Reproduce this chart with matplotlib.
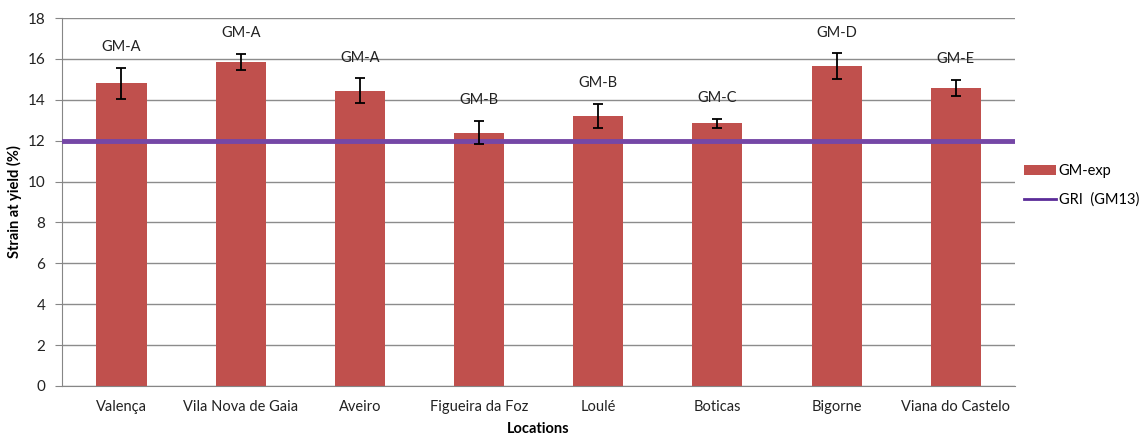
import matplotlib.pyplot as plt
import numpy as np
from matplotlib.lines import Line2D

plt.rcParams['font.family'] = ['Lato', 'DejaVu Sans']

# Data
locations = ['Valença', 'Vila Nova de Gaia', 'Aveiro', 'Figueira da Foz',
             'Loulé', 'Boticas', 'Bigorne', 'Viana do Castelo']
strain = [14.8, 15.85, 14.45, 12.4, 13.2, 12.85, 15.65, 14.58]
strain_err = [0.78, 0.4, 0.6, 0.55, 0.58, 0.22, 0.62, 0.39]
gm_types = ['GM-A', 'GM-A', 'GM-A', 'GM-B', 'GM-B', 'GM-C', 'GM-D', 'GM-E']
gri_value = 12

fig = plt.figure(figsize=(11.46, 4.42), dpi=100)
ax = fig.add_axes([0.054, 0.127, 0.832, 0.832])

x = np.arange(len(locations))
bars = ax.bar(x, strain, width=0.42, color='#C0504D', label='GM-exp', zorder=2)
ax.errorbar(x, strain, yerr=strain_err, fmt='none', ecolor='black',
            elinewidth=1.3, capsize=3.5, capthick=1.3, zorder=4)
ax.axhline(gri_value, color='#7547A6', lw=3.5, zorder=3)

# type labels above the error bars
for xi, v, e, t in zip(x, strain, strain_err, gm_types):
    ax.annotate(t, (xi, v + e), xytext=(0, 10), textcoords='offset points',
                ha='center', va='bottom', fontsize=10.5, color='#222222')

ax.set_xlim(-0.5, len(locations) - 0.5)
ax.set_ylim(0, 18)
ax.set_yticks(np.arange(0, 19, 2))
ax.set_xticks(x)
ax.set_xticklabels(locations, fontsize=10.5, color='#222222')
ax.tick_params(axis='y', labelsize=11, length=5, color='#868686', pad=7,
               labelcolor='#222222')
ax.tick_params(axis='x', length=0, pad=10)
ax.yaxis.grid(True, color='#8C8C8C', lw=1)
ax.set_axisbelow(True)
for s in ['top', 'right']:
    ax.spines[s].set_visible(False)
ax.spines['left'].set_color('#868686')
ax.spines['bottom'].set_color('#868686')

ax.set_xlabel('Locations', fontsize=10.5, fontweight='bold', labelpad=6)
ax.set_ylabel('Strain at yield (%)', fontsize=10.5, fontweight='bold', labelpad=4)

# legend line is drawn thinner than the plotted GRI line
gri_handle = Line2D([], [], color='#5B2C98', lw=2)
ax.legend([bars, gri_handle], ['GM-exp', 'GRI  (GM13)'], loc='center left',
          bbox_to_anchor=(0.995, 0.545), frameon=False, fontsize=10.5,
          handlelength=2.2, handletextpad=0.2, labelspacing=1.0)

fig.savefig('out.png', dpi=100)
